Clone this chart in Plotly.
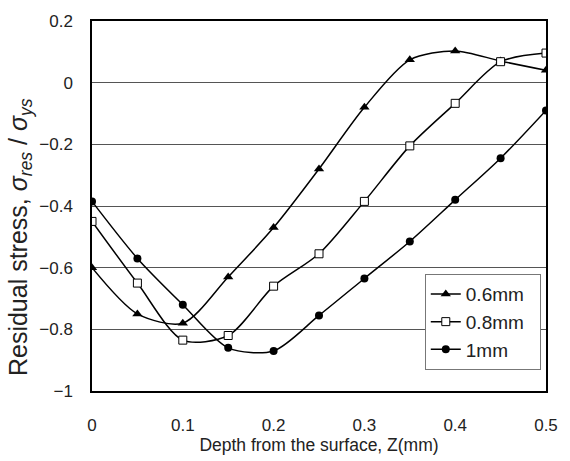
import plotly.graph_objects as go

depth = [0, 0.05, 0.1, 0.15, 0.2, 0.25, 0.3, 0.35, 0.4, 0.45, 0.5]
s06 = [-0.60, -0.75, -0.78, -0.63, -0.47, -0.28, -0.08, 0.074, 0.103, 0.07, 0.04]
s08 = [-0.45, -0.65, -0.835, -0.82, -0.66, -0.555, -0.385, -0.205, -0.067, 0.068, 0.096]
s10 = [-0.385, -0.57, -0.72, -0.86, -0.87, -0.755, -0.635, -0.515, -0.38, -0.245, -0.09]

x_ticks = [0, 0.1, 0.2, 0.3, 0.4, 0.5]
x_labels = ["0", "0.1", "0.2", "0.3", "0.4", "0.5"]
y_ticks = [-1, -0.8, -0.6, -0.4, -0.2, 0, 0.2]
y_labels = ["\u22121", "\u22120.8", "\u22120.6", "\u22120.4", "\u22120.2", "0", "0.2"]
pad = "\u00a0\u00a0"

fig = go.Figure()
fig.add_trace(go.Scatter(x=depth, y=s06, name="0.6mm" + pad, mode="lines+markers",
                         line=dict(color="black", width=1.5, shape="spline", smoothing=0.8),
                         marker=dict(symbol="triangle-up", size=9, color="black")))
fig.add_trace(go.Scatter(x=depth, y=s08, name="0.8mm" + pad, mode="lines+markers",
                         line=dict(color="black", width=1.5, shape="spline", smoothing=0.8),
                         marker=dict(symbol="square", size=8, color="white",
                                     line=dict(color="black", width=1))))
fig.add_trace(go.Scatter(x=depth, y=s10, name="1mm" + pad, mode="lines+markers",
                         line=dict(color="black", width=1.5, shape="spline", smoothing=0.8),
                         marker=dict(symbol="circle", size=8, color="black")))

base = "Liberation Sans, Arial, sans-serif"

fig.update_layout(
    width=570, height=461,
    margin=dict(l=92, r=16, t=17, b=68),
    paper_bgcolor="white", plot_bgcolor="white",
    font=dict(family=base, size=17, color="#222"),
    showlegend=True,
    legend=dict(x=0.733, y=0.316, xanchor="left", yanchor="top",
                bgcolor="white", bordercolor="#777", borderwidth=1,
                font=dict(family=base, size=19, color="#222"), tracegroupgap=0, itemwidth=30),
    xaxis=dict(range=[0, 0.5], tickvals=x_ticks, ticktext=x_labels,
               showgrid=False, zeroline=False, showline=True, linecolor="black",
               linewidth=1.5, mirror=True, ticks="", ticklabelstandoff=18,
               tickfont=dict(family=base, size=17),
               title=dict(text="Depth from the surface, Z(mm)", standoff=2,
                          font=dict(family=base, size=17.5))),
    yaxis=dict(range=[-1, 0.2], tickvals=y_ticks, ticktext=y_labels,
               showgrid=True, gridcolor="#555", gridwidth=1, zeroline=False,
               showline=True, linecolor="black", linewidth=1.5, mirror=True,
               ticks="", ticklabelstandoff=14,
               tickfont=dict(family=base, size=17)),
    annotations=[dict(text="Residual stress, <i>σ<sub>res</sub></i> / <i>σ<sub>ys</sub></i>",
                      xref="paper", yref="paper", x=-0.16, y=0.417,
                      xanchor="center", yanchor="middle", textangle=-90,
                      showarrow=False, font=dict(family=base, size=25, color="#222"))],
)

fig.write_html("out.html")
